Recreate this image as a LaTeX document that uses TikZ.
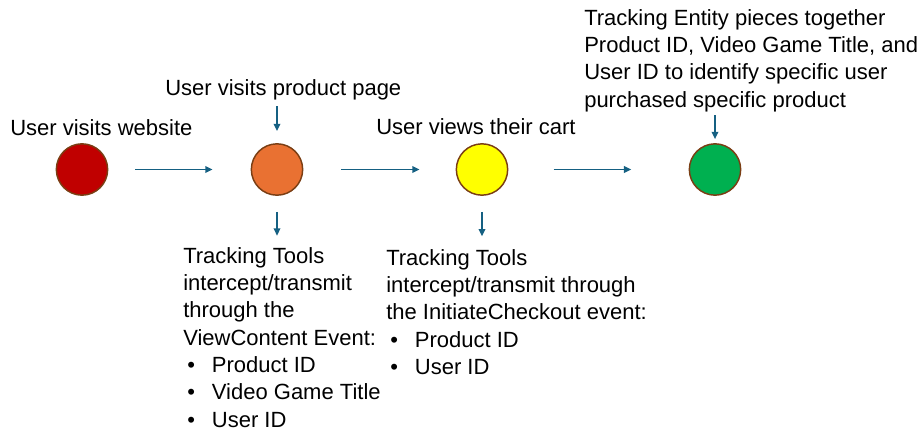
\documentclass[tikz,border=0pt]{standalone}
\usepackage{fontspec}
\setmainfont{Liberation Sans}
\definecolor{FLOW}{HTML}{156082}
\definecolor{RIM}{HTML}{7A3E14}
\definecolor{RED}{HTML}{C00000}
\definecolor{ORANGE}{HTML}{E97132}
\definecolor{YELLOW}{HTML}{FFFF00}
\definecolor{GREEN}{HTML}{00B050}
\usetikzlibrary{arrows.meta,positioning,calc}
\newcommand{\bul}[1]{\hspace*{3pt}\makebox[18.5pt][l]{\textbullet}#1}

\begin{document}
\begin{tikzpicture}
[x=0.75pt, y=-0.75pt,
stage/.style ={circle, draw=RIM, line width=1.1pt, minimum size=38.5pt, inner sep=0pt},
note/.style ={anchor=north west, inner sep=0pt, align=left,
font=\fontsize{16.5}{20.5}\selectfont},
flow/.style={-{Triangle[length=5.5pt,width=5pt]}, FLOW, line width=1.1pt}]
\useasboundingbox (0,0) rectangle (919,431);
% the four stages
\node[stage,fill=RED] (site) at (82,169.5) {};
\node[stage,fill=ORANGE] (page) at (277,169.5) {};
\node[stage,fill=YELLOW] (cart) at (482,169.5) {};
\node[stage,fill=GREEN] (buy) at (715,169.5) {};
% labels
\node[note] (sitelbl) at (10,119) {User visits website};
\node[note] (pagelbl) at (165,79) {User visits product page};
\node[note] (cartlbl) at (376,118) {User views their cart};
\node[note] (entity) at (584,9) {Tracking Entity pieces together\\
Product ID, Video Game Title, and\\User ID to identify specific user\\
purchased specific product};
\node[note] (viewevt) at (183,247) {Tracking Tools\\intercept/transmit\\through the\\
ViewContent Event:\\\bul{Product ID}\\\bul{Video Game Title}\\\bul{User ID}};
\node[note] (checkevt) at (386,249) {Tracking Tools\\intercept/transmit through\\
the InitiateCheckout event:\\\bul{Product ID}\\\bul{User ID}};
% main flow
\draw[flow,shorten <=20pt,shorten >=28.5pt] (site) -- (page);
\draw[flow,shorten <=28.5pt,shorten >=27pt] (page) -- (cart);
\draw[flow,shorten <=34pt,shorten >=43pt] (cart) -- (buy);
% side arrows
\draw[flow,shorten <=4.5pt,shorten >=9pt] (page |- pagelbl.south) -- (page.north);
\draw[flow,shorten <=12pt,shorten >=8.5pt] (page.south) -- (page |- viewevt.north);
\draw[flow,shorten <=12pt,shorten >=9.5pt] (cart.south) -- (cart |- checkevt.north);
\draw[flow,shorten <=2.5pt,shorten >=3pt] (buy |- entity.south) -- (buy.north);
\end{tikzpicture}
\end{document}
